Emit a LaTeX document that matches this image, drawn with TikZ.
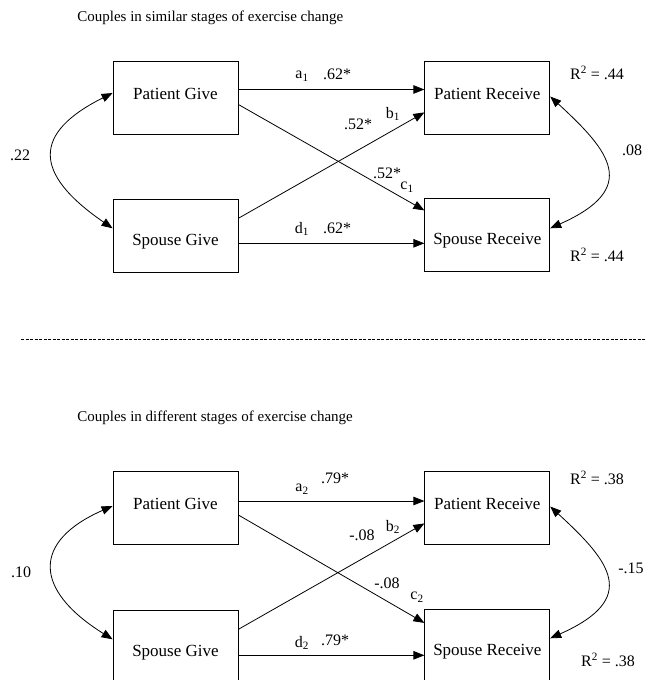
\documentclass[tikz,border=0pt]{standalone}
\usepackage{fontspec}
\setmainfont{Liberation Serif}
\usetikzlibrary{positioning,arrows.meta}

\begin{document}
\begin{tikzpicture}[x=1pt, y=-1pt, line width=0.8pt, >={Triangle[length=11pt,width=8.5pt]},
    font=\fontsize{16}{19}\selectfont,
    box/.style={rectangle, draw, minimum width=125pt, minimum height=73pt, inner sep=0pt, font=\fontsize{17}{20}\selectfont},
    ptbox/.style={box, text height=8pt, text depth=5pt},
    spbox/.style={box, text height=19pt, text depth=0pt},
    title/.style={anchor=west, inner sep=0pt, font=\fontsize{15}{18}\selectfont},
    lab/.style={inner sep=1pt}]
    \useasboundingbox (0,0) rectangle (646,680);

    % similar stages
    \node[title] (t1) at (77,18) {Couples in similar stages of exercise change};
    \node[ptbox] (pg1) at (175.5,97.5) {Patient Give};
    \node[spbox, below=65pt of pg1] (sg1) {Spouse Give};
    \node[ptbox, right=186pt of pg1] (pr1) {Patient Receive};
    \node[spbox, below=64pt of pr1] (sr1) {Spouse Receive};
    \draw[->] ([yshift=8pt]pg1.east) -- ([yshift=8pt]pg1.east -| pr1.west);
    \draw[->] ([yshift=-7pt]pg1.east) -- ([yshift=-12pt]sr1.north west);
    \draw[->] ([yshift=18pt]sg1.east) -- ([yshift=22pt]pr1.south west);
    \draw[->] ([yshift=-7pt]sg1.east) -- ([yshift=-7pt]sg1.east -| sr1.west);
    \draw[<->] ([yshift=4.5pt]pg1.west) .. controls +(-80,40) and +(-80,-55) .. ([yshift=8pt]sg1.west);
    \draw[<->] ([yshift=1pt]pr1.east) .. controls +(60,55) and +(90,-40) .. ([yshift=7pt]sr1.east);
    \node[lab] (la1) at (302,76) {a\textsubscript{1}};
    \node[lab] (va1) at (337,74) {.62*};
    \node[lab] (lb1) at (393,114) {b\textsubscript{1}};
    \node[lab] (vb1) at (358,124) {.52*};
    \node[lab] (vc1) at (387,173) {.52*};
    \node[lab] (lc1) at (407,187) {c\textsubscript{1}};
    \node[lab] (ld1) at (302,229) {d\textsubscript{1}};
    \node[lab] (vd1) at (337,228) {.62*};
    \node[lab] (r1) at (597,73) {R\textsuperscript{2} = .44};
    \node[lab] (r2) at (597,255) {R\textsuperscript{2} = .44};
    \node[lab] (e1) at (20,155) {.22};
    \node[lab] (e2) at (632,150) {.08};

    % divider
    \coordinate (dl) at (21,339);
    \coordinate (dr) at (646,339);
    \draw[dash pattern=on 3pt off 1.5pt, line width=0.6pt] (dl) -- (dr);

    % different stages
    \node[title] (t2) at (77,418) {Couples in different stages of exercise change};
    \node[ptbox] (pg2) at (175.5,508) {Patient Give};
    \node[spbox, below=65pt of pg2] (sg2) {Spouse Give};
    \node[ptbox, right=186pt of pg2] (pr2) {Patient Receive};
    \node[spbox, below=64pt of pr2] (sr2) {Spouse Receive};
    \draw[->] ([yshift=7pt]pg2.east) -- ([yshift=7pt]pg2.east -| pr2.west);
    \draw[->] ([yshift=-7pt]pg2.east) -- ([yshift=-14pt]sr2.north west);
    \draw[->] ([yshift=17.5pt]sg2.east) -- ([yshift=21.5pt]pr2.south west);
    \draw[->] ([yshift=-8.5pt]sg2.east) -- ([yshift=-8.5pt]sg2.east -| sr2.west);
    \draw[<->] ([yshift=2pt]pg2.west) .. controls +(-80,35) and +(-80,-50) .. ([yshift=7.5pt]sg2.west);
    \draw[<->] ([yshift=1.5pt]pr2.east) .. controls +(60,55) and +(90,-40) .. ([yshift=7.5pt]sr2.east);
    \node[lab] (la2) at (302,489) {a\textsubscript{2}};
    \node[lab] (va2) at (335,478) {.79*};
    \node[lab] (lb2) at (393,527) {b\textsubscript{2}};
    \node[lab] (vb2) at (362,535) {-.08};
    \node[lab] (vc2) at (387,583) {-.08};
    \node[lab] (lc2) at (417,597) {c\textsubscript{2}};
    \node[lab] (ld2) at (302,643) {d\textsubscript{2}};
    \node[lab] (vd2) at (335,640) {.79*};
    \node[lab] (r3) at (597,478) {R\textsuperscript{2} = .38};
    \node[lab] (r4) at (608,660) {R\textsuperscript{2} = .38};
    \node[lab] (e3) at (21,572) {.10};
    \node[lab] (e4) at (631,568) {-.15};
\end{tikzpicture}
\end{document}
